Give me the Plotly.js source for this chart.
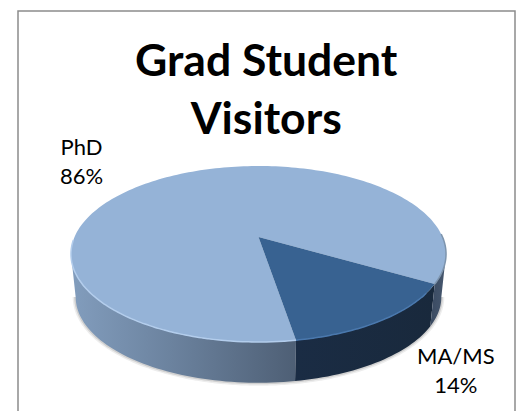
<!DOCTYPE html>
<html><head><meta charset="utf-8">
<script src="https://cdn.plot.ly/plotly-3.0.1.min.js"></script>
<style>html,body{margin:0;padding:0;background:#fff}#c{width:522px;height:411px}</style>
</head><body><div id="c"></div>
<script>
const categories = ['PhD', 'MA/MS'];
const shares = [86, 14];
const titleText = 'Grad Student<br>Visitors';
const faceColors = ['#95b3d7', '#386291'];

// Projection of the tilted disc (a circle seen in perspective)
const view = {cx: 258.5, cy: 254, A: 184, B: 88, C: -17, p: 0.193, shrink: 0.975, drop: 43};
const firstSliceStart = 9.5;      // MA/MS slice leading edge, degrees from the front
const limb = 78.9;                // rim angle where the wall stops being visible

function rim(deg, lower) {
  const t = deg * Math.PI / 180, u = Math.sin(t), v = Math.cos(t), w = 1 - view.p * v;
  const X = view.A * u / w, Y = (view.B * v + view.C) / w;
  return lower ? [view.cx + X * view.shrink, view.cy + Y * view.shrink + view.drop]
               : [view.cx + X, view.cy + Y];
}
function arc(a, b, lower) {
  const pts = [], n = Math.max(2, Math.ceil(Math.abs(b - a) / 1.5));
  for (let i = 0; i <= n; i++) pts.push(rim(a + (b - a) * i / n, lower));
  return pts;
}
const xs = p => p.map(q => q[0]), ys = p => p.map(q => q[1]);
const total = shares.reduce((a, b) => a + b, 0);
const maSweep = shares[1] / total * 360;
const maStart = firstSliceStart, maEnd = maStart + maSweep;
const phdStart = maEnd, phdEnd = maStart + 360;

function wall(a, b, colors) {
  const p = arc(a, b, false).concat(arc(b, a, true));
  p.push(p[0]);
  return {x: xs(p), y: ys(p), mode: 'none', fill: 'toself', hoverinfo: 'skip', showlegend: false,
          fillcolor: colors[colors.length - 1][1],
          fillgradient: {type: 'horizontal', colorscale: colors}};
}
function face(a, b, color, name) {
  const apex = [view.cx, view.cy + view.C];
  const q = [apex].concat(arc(a, b, false)); q.push(apex);
  return {x: xs(q), y: ys(q), name: name, mode: 'none', fill: 'toself', fillcolor: color, hoverinfo: 'skip', showlegend: false};
}
function edge(a, b, lower, color, width) {
  const p = arc(a, b, lower);
  return {x: xs(p), y: ys(p), mode: 'lines', line: {color: color, width: width, shape: 'spline'}, hoverinfo: 'skip', showlegend: false};
}

const traces = [
  edge(-limb, limb, true, 'rgba(0,0,0,0.07)', 6),
  edge(-limb, limb, true, 'rgba(0,0,0,0.12)', 3),
  wall(-limb, maStart, [[0, '#829dbd'], [0.45, '#6b829e'], [1, '#4e5f75']]),
  wall(maStart, maEnd, [[0, '#1a2c44'], [1, '#19293c']]),
  wall(maEnd, limb, [[0, '#3a4a61'], [1, '#47586f']]),
  face(phdStart, phdEnd, faceColors[0], categories[0]),
  face(maStart, maEnd, faceColors[1], categories[1]),
  edge(-88, maStart, false, '#b3cdec', 1.5),
  edge(maStart, maEnd - 6, false, '#4a78ad', 1.5),
  edge(maEnd, 92, false, '#7d94ad', 1.5)
];

const label = (text, x, y) => ({text: text, x: x, y: y, xref: 'x', yref: 'y', showarrow: false,
  font: {family: 'Lato, Carlito, sans-serif', size: 22, color: '#000'}, align: 'center'});

const layout = {
  width: 522, height: 411, margin: {l: 0, r: 0, t: 0, b: 0},
  paper_bgcolor: '#fff', plot_bgcolor: '#fff', showlegend: false,
  xaxis: {range: [0, 522], visible: false, fixedrange: true},
  yaxis: {range: [411, 0], visible: false, fixedrange: true},
  title: {text: titleText, x: 0.51, xanchor: 'center', y: 0.814, yanchor: 'top',
          font: {family: 'Lato, Carlito, sans-serif', size: 44.5, color: '#000', weight: 700}},
  shapes: [{type: 'rect', xref: 'x', yref: 'y', x0: 18, x1: 515, y0: 11, y1: 430,
            line: {color: '#8c8c8c', width: 1.5}, fillcolor: 'rgba(0,0,0,0)', layer: 'above'}],
  annotations: [
    label(categories[0] + '<br>' + shares[0] + '%', 81, 161),
    label(categories[1] + '<br>' + shares[1] + '%', 456, 370)
  ]
};
Plotly.newPlot('c', traces, layout, {staticPlot: true, displayModeBar: false});
</script></body></html>
